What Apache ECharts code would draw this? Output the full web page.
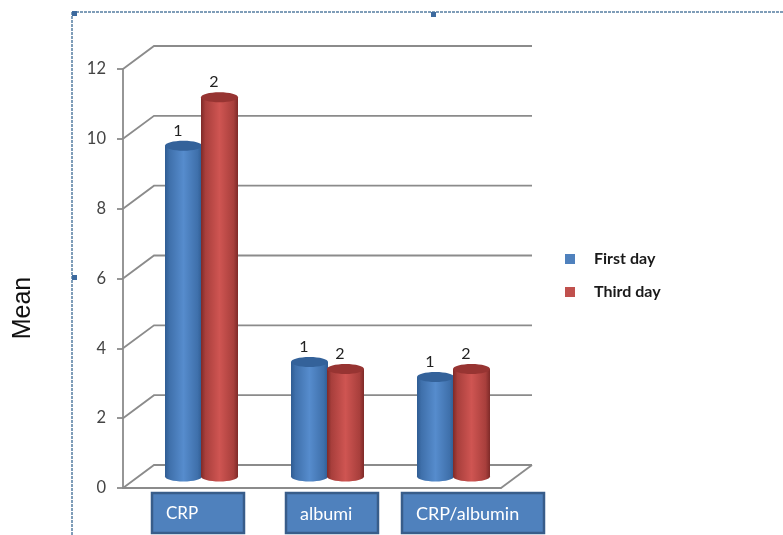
<!DOCTYPE html>
<html>
<head>
<meta charset="utf-8">
<style>html,body{margin:0;padding:0;background:#fff}#chart{width:783px;height:535px}</style>
<script src="https://cdn.jsdelivr.net/npm/echarts@6/dist/echarts.min.js"></script>
</head>
<body>
<div id="chart"></div>
<script>
// Mean values per marker, first and third day
const categories = ['CRP', 'albumi', 'CRP/albumin'];
const firstDay = [9.47, 3.28, 2.85];
const thirdDay = [10.86, 3.08, 3.08];
const firstDayTags = ['1', '1', '1'];
const thirdDayTags = ['2', '2', '2'];
const yTicks = [0, 2, 4, 6, 8, 10, 12];
const seriesNames = ['First day', 'Third day'];

const FONT = 'Lato, "Open Sans", sans-serif';
const GRID_COLOR = '#8b8b8b';
const DEPTH_X = 31, DEPTH_Y = 23;   // oblique depth of the floor
const BAR_W = 37, BAR_RY = 5;

// Oblique wall lines: one diagonal plus one back line per y tick
function renderWall(params, api) {
  const v = api.value(0);
  const catCount = categories.length;
  const front = api.coord([0, v]);
  const band = api.size([1, 0])[0];
  const leftX = front[0] - band / 2;
  const rightX = leftX + band * catCount;
  const y = front[1];
  const style = { stroke: GRID_COLOR, lineWidth: 1.8, fill: null };
  const kids = [{
    type: 'polyline',
    shape: { points: [[leftX, y], [leftX + DEPTH_X, y - DEPTH_Y], [rightX + DEPTH_X, y - DEPTH_Y]] },
    style
  }];
  if (v === 0) {
    kids.push({
      type: 'line',
      shape: { x1: rightX, y1: y, x2: rightX + DEPTH_X, y2: y - DEPTH_Y },
      style
    });
  }
  return { type: 'group', children: kids };
}

// Cylinder drawn from the category scale, sitting mid-way into the floor
function cylinder(sign, palette, tags) {
  return function (params, api) {
    const cat = api.value(0);
    const val = api.value(1);
    const base = api.coord([cat, 0]);
    const top = api.coord([cat, val]);
    const cx = base[0] + DEPTH_X / 2 + sign * (BAR_W / 2 - 0.5);
    const yb = base[1] - DEPTH_Y / 2;
    const yt = top[1] - DEPTH_Y / 2;
    const grad = {
      type: 'linear', x: 0, y: 0, x2: 1, y2: 0,
      colorStops: [
        { offset: 0, color: palette[0] },
        { offset: 0.12, color: palette[1] },
        { offset: 0.5, color: palette[2] },
        { offset: 0.88, color: palette[1] },
        { offset: 1, color: palette[0] }
      ]
    };
    return {
      type: 'group',
      children: [
        { type: 'ellipse', shape: { cx, cy: yb, rx: BAR_W / 2, ry: BAR_RY }, style: { fill: grad } },
        { type: 'rect', shape: { x: cx - BAR_W / 2, y: yt, width: BAR_W, height: yb - yt }, style: { fill: grad } },
        { type: 'ellipse', shape: { cx, cy: yt, rx: BAR_W / 2, ry: BAR_RY }, style: { fill: palette[3] } },
        {
          type: 'text',
          style: {
            x: cx - 5.5, y: yt - 15, text: tags[params.dataIndex],
            fill: '#222', font: '16px ' + FONT, align: 'center', verticalAlign: 'middle'
          }
        }
      ]
    };
  };
}

const BLUE = ['#2f5c92', '#3f70ab', '#568ccd', '#34629a'];
const RED = ['#7e2a28', '#a83f3c', '#cf5552', '#973432'];
const BLUE_KEY = '#4f81bd', RED_KEY = '#c0504d';

// Category captions sit in filled boxes under the floor
const boxSpans = [[152, 244], [286, 378], [402, 544]];
const captionX = [166, 300, 416];
const captionSize = [17, 18, 18];
const captionBoxes = categories.flatMap((name, i) => [
  {
    type: 'rect', silent: true,
    shape: { x: boxSpans[i][0], y: 493, width: boxSpans[i][1] - boxSpans[i][0], height: 40 },
    style: { fill: BLUE_KEY, stroke: '#385d8a', lineWidth: 2.5 }
  },
  {
    type: 'text', silent: true, x: captionX[i], y: 514,
    style: { text: name, fill: '#fff', font: captionSize[i] + 'px ' + FONT, verticalAlign: 'middle' }
  }
]);

// Dashed selection frame and its handles
const frameStyle = { stroke: '#7f9db8', lineWidth: 2, lineDash: [3, 1] };
const frameParts = [
  { type: 'line', silent: true, shape: { x1: 72, y1: 12, x2: 783, y2: 12 }, style: frameStyle },
  { type: 'line', silent: true, shape: { x1: 72, y1: 12, x2: 72, y2: 535 }, style: frameStyle },
  ...[[72, 11], [431, 12], [72, 275]].map(p => ({
    type: 'rect', silent: true,
    shape: { x: p[0], y: p[1], width: 5, height: 5 },
    style: { fill: '#3d6a9e' }
  }))
];

const chart = echarts.init(document.getElementById('chart'), null, { renderer: 'canvas' });
chart.setOption({
  animation: false,
  backgroundColor: '#fff',
  grid: { left: 123, right: 282, top: 69, bottom: 47 },
  legend: {
    orient: 'vertical', left: 560, top: 246, itemWidth: 10, itemHeight: 10, itemGap: 17,
    icon: 'rect', data: seriesNames,
    textStyle: { fontFamily: FONT, fontWeight: 'bold', fontSize: 16, color: '#1a1a1a', padding: [0, 0, 0, 14] }
  },
  xAxis: {
    type: 'category', data: categories,
    axisLine: { lineStyle: { color: GRID_COLOR, width: 1.8 } },
    axisTick: { show: false }, axisLabel: { show: false }, splitLine: { show: false }
  },
  yAxis: {
    type: 'value', min: 0, max: 12, interval: 2,
    axisLine: { show: true, lineStyle: { color: GRID_COLOR, width: 1.8 } },
    axisTick: { show: true, length: 6, lineStyle: { color: GRID_COLOR, width: 1.8 } },
    axisLabel: { fontFamily: FONT, fontSize: 16.5, color: '#444', margin: 17 },
    splitLine: { show: false }
  },
  graphic: [
    {
      type: 'text', silent: true, x: 23, y: 308, rotation: Math.PI / 2,
      style: { text: 'Mean', fill: '#111', font: '25px "Liberation Sans", Arial, sans-serif', align: 'center', verticalAlign: 'middle' }
    },
    ...captionBoxes,
    ...frameParts
  ],
  series: [
    {
      type: 'custom', name: 'walls', coordinateSystem: 'cartesian2d', silent: true, z: 1,
      renderItem: renderWall, data: yTicks.map(v => [v]), encode: { y: 0 }
    },
    {
      type: 'custom', name: seriesNames[0], coordinateSystem: 'cartesian2d', z: 2,
      itemStyle: { color: BLUE_KEY },
      renderItem: cylinder(-1, BLUE, firstDayTags),
      data: firstDay.map((v, i) => [i, v]), encode: { x: 0, y: 1 }
    },
    {
      type: 'custom', name: seriesNames[1], coordinateSystem: 'cartesian2d', z: 3,
      itemStyle: { color: RED_KEY },
      renderItem: cylinder(1, RED, thirdDayTags),
      data: thirdDay.map((v, i) => [i, v]), encode: { x: 0, y: 1 }
    }
  ]
});
</script>
</body>
</html>
